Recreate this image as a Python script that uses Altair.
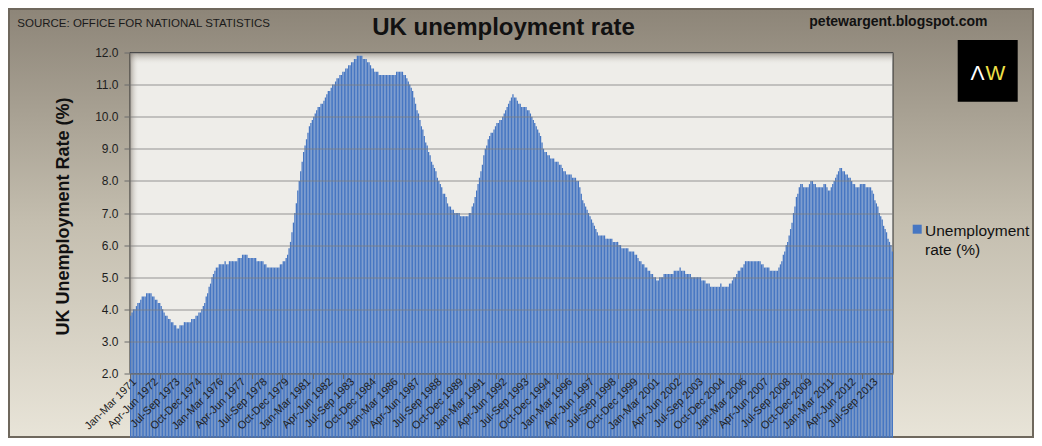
import altair as alt
import pandas as pd

# ---------------- data (rolling three-month periods, % of economically active) -------------
MONTHS = ["Jan", "Feb", "Mar", "Apr", "May", "Jun", "Jul", "Aug", "Sep", "Oct", "Nov", "Dec"]
START_YEAR = 1971

r1971 = [3.8, 3.9, 4.0, 4.0, 4.1, 4.2, 4.2, 4.3, 4.4, 4.4, 4.4, 4.5]
r1972 = [4.5, 4.5, 4.5, 4.4, 4.4, 4.3, 4.3, 4.2, 4.2, 4.1, 4.0, 3.9]
r1973 = [3.8, 3.8, 3.7, 3.7, 3.6, 3.6, 3.5, 3.5, 3.4, 3.4, 3.5, 3.5]
r1974 = [3.5, 3.6, 3.6, 3.6, 3.6, 3.6, 3.7, 3.7, 3.7, 3.8, 3.8, 3.9]
r1975 = [3.9, 4.0, 4.1, 4.2, 4.4, 4.5, 4.7, 4.8, 5.0, 5.1, 5.2, 5.3]
r1976 = [5.3, 5.4, 5.4, 5.4, 5.4, 5.5, 5.4, 5.4, 5.5, 5.5, 5.5, 5.5]
r1977 = [5.5, 5.5, 5.6, 5.6, 5.6, 5.7, 5.7, 5.7, 5.7, 5.6, 5.6, 5.6]
r1978 = [5.6, 5.6, 5.6, 5.5, 5.5, 5.5, 5.5, 5.5, 5.4, 5.4, 5.3, 5.3]
r1979 = [5.3, 5.3, 5.3, 5.3, 5.3, 5.3, 5.3, 5.4, 5.4, 5.5, 5.5, 5.6]
r1980 = [5.7, 5.9, 6.1, 6.4, 6.7, 7.0, 7.3, 7.7, 8.0, 8.3, 8.6, 8.9]
r1981 = [9.1, 9.3, 9.5, 9.7, 9.8, 9.9, 10.0, 10.1, 10.2, 10.3, 10.3, 10.4]
r1982 = [10.4, 10.5, 10.6, 10.7, 10.8, 10.8, 10.9, 11.0, 11.0, 11.1, 11.2, 11.2]
r1983 = [11.3, 11.3, 11.4, 11.4, 11.5, 11.5, 11.6, 11.6, 11.7, 11.7, 11.8, 11.8]
r1984 = [11.9, 11.9, 11.9, 11.9, 11.8, 11.8, 11.8, 11.7, 11.7, 11.6, 11.5, 11.5]
r1985 = [11.4, 11.4, 11.4, 11.3, 11.3, 11.3, 11.3, 11.3, 11.3, 11.3, 11.3, 11.3]
r1986 = [11.3, 11.3, 11.3, 11.4, 11.4, 11.4, 11.4, 11.4, 11.3, 11.3, 11.2, 11.1]
r1987 = [11.0, 10.9, 10.8, 10.6, 10.4, 10.2, 10.1, 9.9, 9.7, 9.6, 9.4, 9.2]
r1988 = [9.1, 8.9, 8.8, 8.6, 8.5, 8.4, 8.3, 8.1, 8.0, 7.9, 7.8, 7.6]
r1989 = [7.6, 7.5, 7.3, 7.2, 7.2, 7.1, 7.1, 7.0, 7.0, 7.0, 7.0, 6.9]
r1990 = [6.9, 6.9, 6.9, 6.9, 6.9, 7.0, 7.0, 7.2, 7.3, 7.5, 7.7, 7.9]
r1991 = [8.1, 8.3, 8.5, 8.8, 9.0, 9.1, 9.3, 9.4, 9.5, 9.5, 9.6, 9.7]
r1992 = [9.8, 9.8, 9.9, 9.9, 10.0, 10.1, 10.2, 10.3, 10.4, 10.5, 10.6, 10.7]
r1993 = [10.6, 10.6, 10.5, 10.4, 10.4, 10.3, 10.3, 10.3, 10.3, 10.2, 10.2, 10.1]
r1994 = [10.0, 9.9, 9.8, 9.7, 9.6, 9.5, 9.4, 9.2, 9.0, 8.9, 8.9, 8.8]
r1995 = [8.8, 8.7, 8.7, 8.7, 8.6, 8.6, 8.6, 8.5, 8.5, 8.4, 8.3, 8.3]
r1996 = [8.2, 8.2, 8.2, 8.2, 8.1, 8.1, 8.1, 8.0, 8.0, 7.8, 7.6, 7.4]
r1997 = [7.3, 7.2, 7.1, 7.0, 6.9, 6.8, 6.7, 6.6, 6.5, 6.4, 6.3, 6.3]
r1998 = [6.3, 6.3, 6.3, 6.2, 6.2, 6.2, 6.2, 6.2, 6.1, 6.1, 6.1, 6.1]
r1999 = [6.0, 6.0, 5.9, 5.9, 5.9, 5.9, 5.9, 5.8, 5.8, 5.8, 5.8, 5.7]
r2000 = [5.7, 5.6, 5.5, 5.5, 5.4, 5.4, 5.3, 5.3, 5.2, 5.2, 5.1, 5.1]
r2001 = [5.0, 5.0, 4.9, 4.9, 5.0, 5.0, 5.0, 5.1, 5.1, 5.1, 5.1, 5.1]
r2002 = [5.1, 5.1, 5.2, 5.2, 5.2, 5.2, 5.3, 5.2, 5.2, 5.2, 5.1, 5.1]
r2003 = [5.1, 5.1, 5.0, 5.0, 5.0, 5.0, 5.0, 5.0, 5.0, 4.9, 4.9, 4.9]
r2004 = [4.8, 4.8, 4.8, 4.7, 4.7, 4.7, 4.7, 4.7, 4.7, 4.7, 4.8, 4.7]
r2005 = [4.7, 4.7, 4.7, 4.7, 4.8, 4.8, 4.9, 5.0, 5.0, 5.1, 5.2, 5.2]
r2006 = [5.3, 5.3, 5.4, 5.5, 5.5, 5.5, 5.5, 5.5, 5.5, 5.5, 5.5, 5.5]
r2007 = [5.5, 5.5, 5.4, 5.4, 5.3, 5.3, 5.3, 5.3, 5.2, 5.2, 5.2, 5.2]
r2008 = [5.2, 5.2, 5.3, 5.4, 5.5, 5.7, 5.8, 6.0, 6.1, 6.3, 6.5, 6.7]
r2009 = [7.0, 7.2, 7.5, 7.6, 7.8, 7.9, 7.9, 7.8, 7.8, 7.8, 7.8, 7.9]
r2010 = [8.0, 8.0, 7.9, 7.9, 7.8, 7.8, 7.8, 7.8, 7.8, 7.9, 7.9, 7.8]
r2011 = [7.7, 7.7, 7.8, 7.9, 8.0, 8.1, 8.2, 8.3, 8.4, 8.4, 8.3, 8.3]
r2012 = [8.2, 8.2, 8.1, 8.1, 8.0, 7.9, 7.9, 7.8, 7.8, 7.8, 7.9, 7.9]
r2013 = [7.9, 7.9, 7.8, 7.8, 7.8, 7.8, 7.7, 7.6, 7.4, 7.3, 7.2, 7.0]
r2014 = [6.9, 6.8, 6.6, 6.5, 6.4, 6.2, 6.1, 6.0, 5.8]

YEARS = [r1971, r1972, r1973, r1974, r1975, r1976, r1977, r1978, r1979, r1980,
         r1981, r1982, r1983, r1984, r1985, r1986, r1987, r1988, r1989, r1990,
         r1991, r1992, r1993, r1994, r1995, r1996, r1997, r1998, r1999, r2000,
         r2001, r2002, r2003, r2004, r2005, r2006, r2007, r2008, r2009, r2010,
         r2011, r2012, r2013, r2014]

rates = [v for yr in YEARS for v in yr]
periods = []
for i in range(len(rates)):
    m = i % 12
    y = START_YEAR + i // 12
    end_year = y + (m + 2) // 12
    periods.append(f"{MONTHS[m]}-{MONTHS[(m + 2) % 12]} {end_year}")

df = pd.DataFrame({"period": periods, "rate": rates, "series": "Unemployment rate (%)"})
label_values = periods[::15]
tick_values = periods[::21]

# ---------------- layout / style -------------
W, H = 763, 321
PL, PT, PR, PB = 122, 44.5, 141, 64.5
FONT = "Liberation Sans, Arial, sans-serif"
BLUE = "#4676c2"
one = pd.DataFrame({"k": [0]})


def grad(stops, horizontal=False):
    return alt.LinearGradient(
        gradient="linear",
        stops=[alt.GradientStop(color=c, offset=o) for o, c in stops],
        x1=0, y1=0, x2=1 if horizontal else 0, y2=0 if horizontal else 1,
    )


bg = alt.Chart(one).mark_rect(
    fill=grad([(0, "#8d8578"), (0.5, "#c4beaf"), (1, "#e8e4d8")]),
    stroke="#6f685d", strokeWidth=2,
).encode(x=alt.value(-PL + 1), x2=alt.value(W + PR - 1),
         y=alt.value(-PT + 1), y2=alt.value(H + PB - 1))

plotbg = alt.Chart(one).mark_rect(fill="#eeede9", stroke="#2b2b2b", strokeWidth=1).encode(
    x=alt.value(0), x2=alt.value(W), y=alt.value(0), y2=alt.value(H))

shade_top = alt.Chart(one).mark_rect(
    fill=grad([(0, "rgba(120,110,98,0.6)"), (1, "rgba(236,235,231,0)")])
).encode(x=alt.value(0.5), x2=alt.value(W - 0.5), y=alt.value(0.5), y2=alt.value(12))

shade_left = alt.Chart(one).mark_rect(
    fill=grad([(0, "rgba(120,110,98,0.5)"), (1, "rgba(236,235,231,0)")], horizontal=True)
).encode(x=alt.value(0.5), x2=alt.value(9), y=alt.value(0.5), y2=alt.value(H))

bars = alt.Chart(df).mark_bar(color=BLUE).encode(
    x=alt.X("period:N", sort=None,
            scale=alt.Scale(paddingInner=0.12, paddingOuter=0),
            axis=alt.Axis(orient="bottom", values=label_values, labelAngle=-45,
                          labelFont=FONT, labelFontSize=11, labelColor="#1e1e1e",
                          labelOverlap=False, labelPadding=2, labelBound=False,
                          ticks=False, tickSize=0, domain=True, domainColor="#6b6b6b",
                          grid=False, title=None, zindex=1)),
    y=alt.Y("rate:Q",
            scale=alt.Scale(domain=[2, 12], zero=False, nice=False),
            axis=alt.Axis(values=list(range(2, 13)), format=".1f",
                          labelFont=FONT, labelFontSize=12, labelColor="#1e1e1e",
                          labelPadding=6, tickSize=6, tickColor="#6a6a6a",
                          domain=False, grid=True, gridColor="#7d7d7d", gridOpacity=0.8,
                          title="UK Unemployment Rate (%)", titleFont=FONT,
                          titleFontSize=18, titleFontWeight="bold", titleColor="#111111",
                          titleAngle=270, titleAlign="center", titleBaseline="middle",
                          titleX=-67, titleY=163.5, zindex=1)),
    tooltip=["period", "rate"],
)

tickmarks = alt.Chart(df).mark_bar(opacity=0).encode(
    x=alt.X("period:N", sort=None,
            axis=alt.Axis(orient="bottom", values=tick_values, bandPosition=0,
                          labels=False, ticks=True, tickSize=5, tickColor="#6a6a6a",
                          domain=False, grid=False, title=None, zindex=1)),
)


def label(text, x, y, size, weight="normal", align="left", color="#1a1a1a", font=FONT):
    return alt.Chart(one).mark_text(
        text=text, font=font, fontSize=size, fontWeight=weight, align=align,
        baseline="alphabetic", color=color,
    ).encode(x=alt.value(x), y=alt.value(y))


source = label("SOURCE: OFFICE FOR NATIONAL STATISTICS", -112.7, -25.5, 11.5)
title = label("UK unemployment rate", W / 2 - 8, -17.5, 24, weight="bold", align="center", color="#111111")
site = label("petewargent.blogspot.com", 679.3, -26.5, 14, weight="bold", color="#111111")

logo_box = alt.Chart(one).mark_rect(fill="#000000").encode(
    x=alt.value(827.7), x2=alt.value(887.7), y=alt.value(-12.5), y2=alt.value(49.2))
logo_a = label("Λ", 847.5, 27, 21, align="center", color="#ffffff")
logo_w = label("W", 865.5, 27, 21, align="center", color="#f0e24a")

leg_sq = alt.Chart(one).mark_square(size=81, color=BLUE, opacity=1).encode(
    x=alt.value(787.2), y=alt.value(176.7))
leg_txt = alt.Chart(one).mark_text(
    text=["Unemployment", "rate (%)"], font=FONT, fontSize=15.5, lineHeight=19,
    align="left", baseline="alphabetic", color="#111111",
).encode(x=alt.value(795), y=alt.value(183))

chart = alt.layer(
    bg, plotbg, shade_top, shade_left, bars, tickmarks,
    source, title, site, logo_box, logo_a, logo_w, leg_sq, leg_txt,
).resolve_axis(x="independent").properties(
    width=W, height=H,
    padding={"left": PL, "top": PT, "right": PR, "bottom": PB},
    autosize=alt.AutoSizeParams(type="none"),
).configure_view(strokeWidth=0)

chart.save("out.html", embed_options={"renderer": "svg", "actions": False})
